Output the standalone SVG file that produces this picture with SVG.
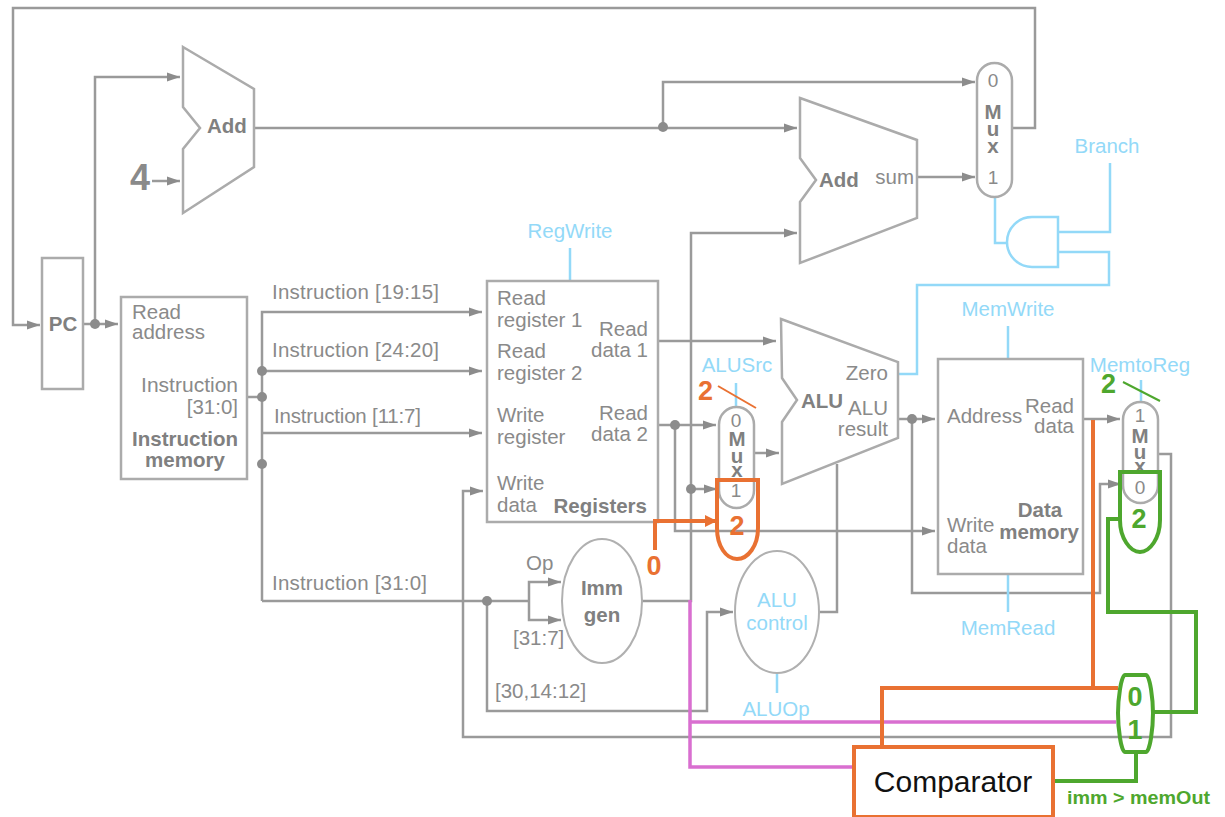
<svg xmlns="http://www.w3.org/2000/svg" width="1225" height="817" viewBox="0 0 1225 817">
<style>
text{font-family:"Liberation Sans",Arial,sans-serif;font-size:20.5px;fill:#8a8a8a}
.b{font-weight:bold;fill:#808080}
.m{text-anchor:middle}
.e{text-anchor:end}
.c{fill:#93d9f8}
.s{fill:#fff;stroke:#ababab;stroke-width:2.5}
.w{fill:#fff;stroke:#b0b0b0;stroke-width:2}
.g{fill:none;stroke:#9a9a9a;stroke-width:2.5}
.a{marker-end:url(#ga)}
.l{fill:none;stroke:#93d9f8;stroke-width:2.5}
.o{fill:none;stroke:#e97132;stroke-width:4}
.n{fill:none;stroke:#4ea72e;stroke-width:4}
.p{fill:none;stroke:#d96fd0;stroke-width:3.5}
.d{fill:#8c8c8c}
.ot{fill:#e97132;font-weight:bold;font-size:27px}
.nt{fill:#4ea72e;font-weight:bold;font-size:27px}
.dg{font-size:19px}
</style>
<defs>
<marker id="ga" markerUnits="userSpaceOnUse" markerWidth="14" markerHeight="10" refX="13" refY="5" orient="auto"><path d="M0,0.5L13,5L0,9.500Z" fill="#8c8c8c"/></marker>
<marker id="oa" markerUnits="userSpaceOnUse" markerWidth="13" markerHeight="12" refX="12" refY="6" orient="auto"><path d="M0,0L12,6L0,12Z" fill="#e97132"/></marker>
</defs>
<rect width="1225" height="817" fill="#fff"/>
<g id="connectors">
<path class="g a" d="M1012,128H1035V8H13V325H40"/>
<path class="g a" d="M83,324H118"/>
<path class="g a" d="M95,324V77H180"/>
<path class="g a" d="M152,181H180"/>
<path class="g a" d="M254,128H797"/>
<path class="g a" d="M663,127V82H975"/>
<path class="g a" d="M917,177H975"/>
<path class="g" d="M247,397H262"/>
<path class="g a" d="M262,601V312H482"/>
<path class="g a" d="M262,371H482"/>
<path class="g a" d="M262,433H482"/>
<path class="g" d="M262,601H529"/>
<path class="g a" d="M529,601V582H561"/>
<path class="g a" d="M529,601V620H561"/>
<path class="g a" d="M487,601V711H707V612H733"/>
<path class="g a" d="M1158,454H1171V737H463V491H483"/>
<path class="g a" d="M642,601H691V233H797"/>
<path class="g a" d="M658,341H776"/>
<path class="g a" d="M658,425H716"/>
<path class="g a" d="M675,425V531H935"/>
<path class="g a" d="M691,489H717"/>
<path class="g a" d="M754,453H779"/>
<path class="g" d="M819,612H837V464"/>
<path class="g a" d="M898,419H935"/>
<path class="g a" d="M912,419V593H1100V484H1121"/>
<path class="g a" d="M1083,419H1120"/>
<path class="l" d="M1110,163V232H1058"/>
<path class="l" d="M1058,252H1109V285H917V374H898"/>
<path class="l" d="M995,197V243H1007"/>
<path class="l" d="M570,248V281"/>
<path class="l" d="M736,383V407"/>
<path class="l" d="M1008,326V359"/>
<path class="l" d="M1008,574V612"/>
<path class="l" d="M1141,380V402"/>
<path class="l" d="M777,673V693"/>
<circle class="d" cx="95" cy="324" r="5"/>
<circle class="d" cx="663" cy="127" r="5"/>
<circle class="d" cx="262" cy="371" r="5"/>
<circle class="d" cx="262" cy="397" r="5"/>
<circle class="d" cx="262" cy="464" r="5"/>
<circle class="d" cx="487" cy="601" r="5"/>
<circle class="d" cx="675" cy="425" r="5"/>
<circle class="d" cx="691" cy="489" r="5"/>
<circle class="d" cx="912" cy="419" r="5"/>
</g>
<g id="pc"><rect class="s" x="42" y="258" width="41" height="131"/><text class="b m" x="63" y="331">PC</text></g>
<g id="add1"><path class="s" d="M183,47L254,89V167L183,213V149L200,128L183,107Z"/><text class="b" x="207" y="133">Add</text></g>
<text x="130" y="190" style="font-size:36px;font-weight:bold">4</text>
<g id="add2"><path class="s" d="M800,98L917,140V218L800,263V202L816,180L800,158Z"/><text class="b" x="819" y="187">Add</text><text class="e" x="914" y="184">sum</text></g>
<g id="mux-branch"><rect class="s" x="977" y="63" width="35" height="134" rx="17.500"/><text class="m"><tspan class="dg" x="993" y="87">0</tspan><tspan class="b" x="993" y="119">M</tspan><tspan class="b" x="993" y="136">u</tspan><tspan class="b" x="993" y="153">x</tspan><tspan class="dg" x="993" y="184">1</tspan></text></g>
<g id="and-gate"><path d="M1058,217H1032A25,25 0 0 0 1032,267H1058Z" fill="#fff" stroke="#93d9f8" stroke-width="2.500"/></g>
<g id="branch-label"><text class="c m" x="1107" y="153">Branch</text></g>
<g id="instruction-memory"><rect class="s" x="121" y="297" width="126" height="182"/><text x="132" y="319">Read</text><text x="132" y="339">address</text><text class="e" x="238" y="392" style="font-size:21px">Instruction</text><text class="e" x="238" y="414">[31:0]</text><text class="b m" x="185" y="446">Instruction</text><text class="b m" x="185" y="467">memory</text></g>
<g id="instruction-labels"><text x="272" y="299" textLength="167">Instruction [19:15]</text><text x="272" y="357" textLength="167">Instruction [24:20]</text><text x="274" y="423" textLength="147">Instruction [11:7]</text><text x="272" y="590" textLength="155">Instruction [31:0]</text></g>
<g id="registers"><rect class="s" x="487" y="281" width="171" height="241"/><text x="497" y="305">Read</text><text x="497" y="327">register 1</text><text x="497" y="358">Read</text><text x="497" y="380">register 2</text><text x="497" y="422">Write</text><text x="497" y="444">register</text><text x="497" y="490">Write</text><text x="497" y="512">data</text><text class="b e" x="647" y="513">Registers</text><text class="e" x="648" y="336">Read</text><text class="e" x="648" y="357">data 1</text><text class="e" x="648" y="420">Read</text><text class="e" x="648" y="441">data 2</text></g>
<g id="regwrite-label"><text class="c m" x="570" y="238">RegWrite</text></g>
<g id="mux-alusrc"><rect class="s" x="719" y="407" width="35" height="101" rx="17.500"/><text class="m"><tspan class="dg" x="736" y="427">0</tspan><tspan class="b" x="737" y="446">M</tspan><tspan class="b" x="737" y="463">u</tspan><tspan class="b" x="737" y="477">x</tspan><tspan class="dg" x="736" y="497">1</tspan></text></g>
<g id="alusrc-label"><text class="c m" x="737" y="372">ALUSrc</text></g>
<g id="alu"><path class="s" d="M781,319L898,362V438L782,484V422L797,400L782,378Z"/><text class="b" x="801" y="408">ALU</text><text class="e" x="888" y="380">Zero</text><text class="e" x="888" y="415">ALU</text><text class="e" x="888" y="436">result</text></g>
<g id="data-memory"><rect class="s" x="938" y="359" width="145" height="215"/><text x="947" y="423">Address</text><text class="e" x="1074" y="413">Read</text><text class="e" x="1074" y="433">data</text><text x="947" y="532">Write</text><text x="947" y="553">data</text><text class="b m" x="1040" y="517">Data</text><text class="b e" x="1079" y="539">memory</text></g>
<g id="memory-labels"><text class="c m" x="1008" y="316">MemWrite</text><text class="c m" x="1008" y="635">MemRead</text><text class="c m" x="1140" y="372">MemtoReg</text></g>
<g id="mux-memtoreg"><rect class="s" x="1123" y="402" width="35" height="101" rx="17.500"/><text class="m"><tspan class="dg" x="1140" y="422">1</tspan><tspan class="b" x="1140" y="443">M</tspan><tspan class="b" x="1140" y="459">u</tspan><tspan class="b" x="1140" y="473">x</tspan><tspan class="dg" x="1140" y="494">0</tspan></text></g>
<g id="imm-gen"><ellipse class="w" cx="602" cy="601" rx="40" ry="62"/><text class="b m" x="602" y="595">Imm</text><text class="b m" x="602" y="622">gen</text><text x="526" y="570">Op</text><text x="513" y="645">[31:7]</text><text x="495" y="698">[30,14:12]</text></g>
<g id="alu-control"><ellipse class="w" cx="777" cy="612" rx="42" ry="61"/><text class="c m" x="777" y="607">ALU</text><text class="c m" x="777" y="630">control</text><text class="c m" x="776" y="716">ALUOp</text></g>
<g id="overlay-wires">
<path class="p" d="M690,600V767H854"/>
<path class="p" d="M690,722H1116"/>
<path class="o" d="M1093,420V688"/>
<path class="o" d="M1118,688H882V747"/>
<path class="o" d="M655,550V521H717" style="marker-end:url(#oa)"/>
<path class="n" d="M1120,519H1108V612H1196V712H1153"/>
<path class="n" d="M1055,781H1136V752"/>
<path d="M718,386L756,408" fill="none" stroke="#e97132" stroke-width="2"/>
<path d="M1123,382L1160,401" fill="none" stroke="#4ea72e" stroke-width="2"/>
</g>
<g id="alu-src-extension"><path class="o" d="M717,480H758V528C758,546 748,559 737,559C726,559 717,546 717,528Z"/><text class="ot m" x="737" y="535">2</text></g>
<text class="ot" x="698" y="400">2</text>
<text class="ot m" x="654" y="575">0</text>
<g id="memtoreg-extension"><path class="n" d="M1120,472H1160V520C1160,538 1150,552 1140,552C1130,552 1120,538 1120,520Z"/><text class="nt m" x="1139" y="528">2</text></g>
<text class="nt" x="1101" y="393">2</text>
<g id="selector-mux"><path class="n" d="M1125,675H1146C1150,675 1153,700 1153,713C1153,728 1150,752 1146,752H1125C1121,752 1118,728 1118,713C1118,700 1121,675 1125,675Z"/><text class="nt m" x="1135" y="706">0</text><text class="nt m" x="1135" y="739">1</text></g>
<g id="comparator"><rect x="854" y="747" width="199" height="70" fill="#fff" stroke="#e97132" stroke-width="4"/><text class="m" x="953" y="792" style="fill:#111;font-size:30px">Comparator</text></g>
<text x="1067" y="804" style="fill:#4ea72e;font-weight:bold;font-size:18px" textLength="143" lengthAdjust="spacingAndGlyphs">imm &gt; memOut</text>
</svg>
